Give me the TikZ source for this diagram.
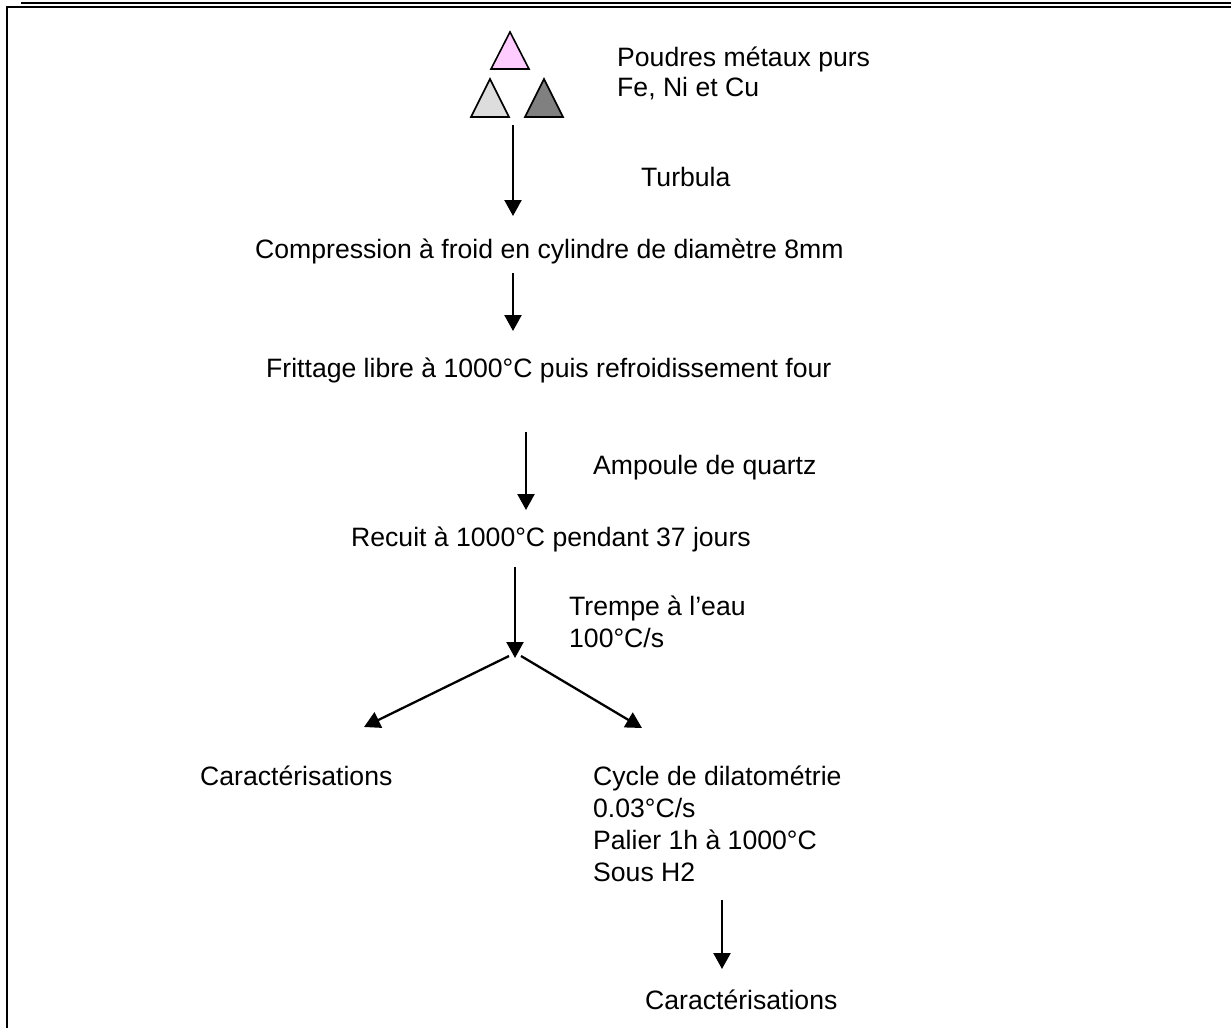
\documentclass[tikz,border=0pt]{standalone}
\usepackage{fontspec}
\setmainfont{Liberation Sans}
\usetikzlibrary{arrows.meta}
\definecolor{pinkpow}{HTML}{FFCCFF}
\definecolor{lightpow}{HTML}{DDDDDD}
\definecolor{darkpow}{HTML}{808080}
\tikzset{
  lbl/.style={anchor=base west, inner sep=0pt, font=\fontsize{26.6}{30}\selectfont},
  flow/.style={line width=2.3pt, -{Triangle[width=17pt,length=16pt]}},
  frame/.style={line width=2pt},
  tri/.style={line width=1.6pt, line join=miter}
}
\begin{document}
\begin{tikzpicture}[x=1pt,y=-1pt]
\useasboundingbox (0,0) rectangle (1231,1028);
% frame lines
\draw[frame] (21,3) -- (1231,3);
\draw[frame] (6,7) -- (1231,7);
\draw[frame] (7,6) -- (7,1028);
% powders
\filldraw[tri, fill=pinkpow] (491,69) -- (510,32) -- (529,69) -- cycle;
\filldraw[tri, fill=lightpow] (471,117) -- (490,79) -- (509,117) -- cycle;
\filldraw[tri, fill=darkpow] (525,117) -- (544,79) -- (563,117) -- cycle;
% texts
\node[lbl] (poudres1) at (617,66) {Poudres métaux purs};
\node[lbl] (poudres2) at (617,96) {Fe, Ni et Cu};
\node[lbl] (turbula) at (641,186) {Turbula};
\node[lbl] (compression) at (255,258) {Compression à froid en cylindre de diamètre 8mm};
\node[lbl] (frittage) at (266,377) {Frittage libre à 1000°C puis refroidissement four};
\node[lbl] (ampoule) at (593,474) {Ampoule de quartz};
\node[lbl] (recuit) at (351,546) {Recuit à 1000°C pendant 37 jours};
\node[lbl] (trempe1) at (569,615) {Trempe à l’eau};
\node[lbl] (trempe2) at (569,647) {100°C/s};
\node[lbl] (carac1) at (200,785) {Caractérisations};
\node[lbl] (cycle1) at (593,785) {Cycle de dilatométrie};
\node[lbl] (cycle2) at (593,817) {0.03°C/s};
\node[lbl] (cycle3) at (593,849) {Palier 1h à 1000°C};
\node[lbl] (cycle4) at (593,881) {Sous H2};
\node[lbl] (carac2) at (645,1009) {Caractérisations};
% arrow end points
\coordinate (a1s) at (513,125);
\coordinate (a1e) at (513,216);
\coordinate (a2s) at (513,273);
\coordinate (a2e) at (513,331);
\coordinate (a3s) at (526,432);
\coordinate (a3e) at (526,510);
\coordinate (a4s) at (515,567);
\coordinate (split) at (515,658);
\coordinate (lS) at (509,656);
\coordinate (lE) at (364,727);
\coordinate (rS) at (521,656);
\coordinate (rE) at (642,728);
\coordinate (a5s) at (722,900);
\coordinate (a5e) at (722,969);
\draw[flow] (a1s) -- (a1e);
\draw[flow] (a2s) -- (a2e);
\draw[flow] (a3s) -- (a3e);
\draw[flow] (a4s) -- (split);
\draw[flow] (lS) -- (lE);
\draw[flow] (rS) -- (rE);
\draw[flow] (a5s) -- (a5e);
\end{tikzpicture}
\end{document}
